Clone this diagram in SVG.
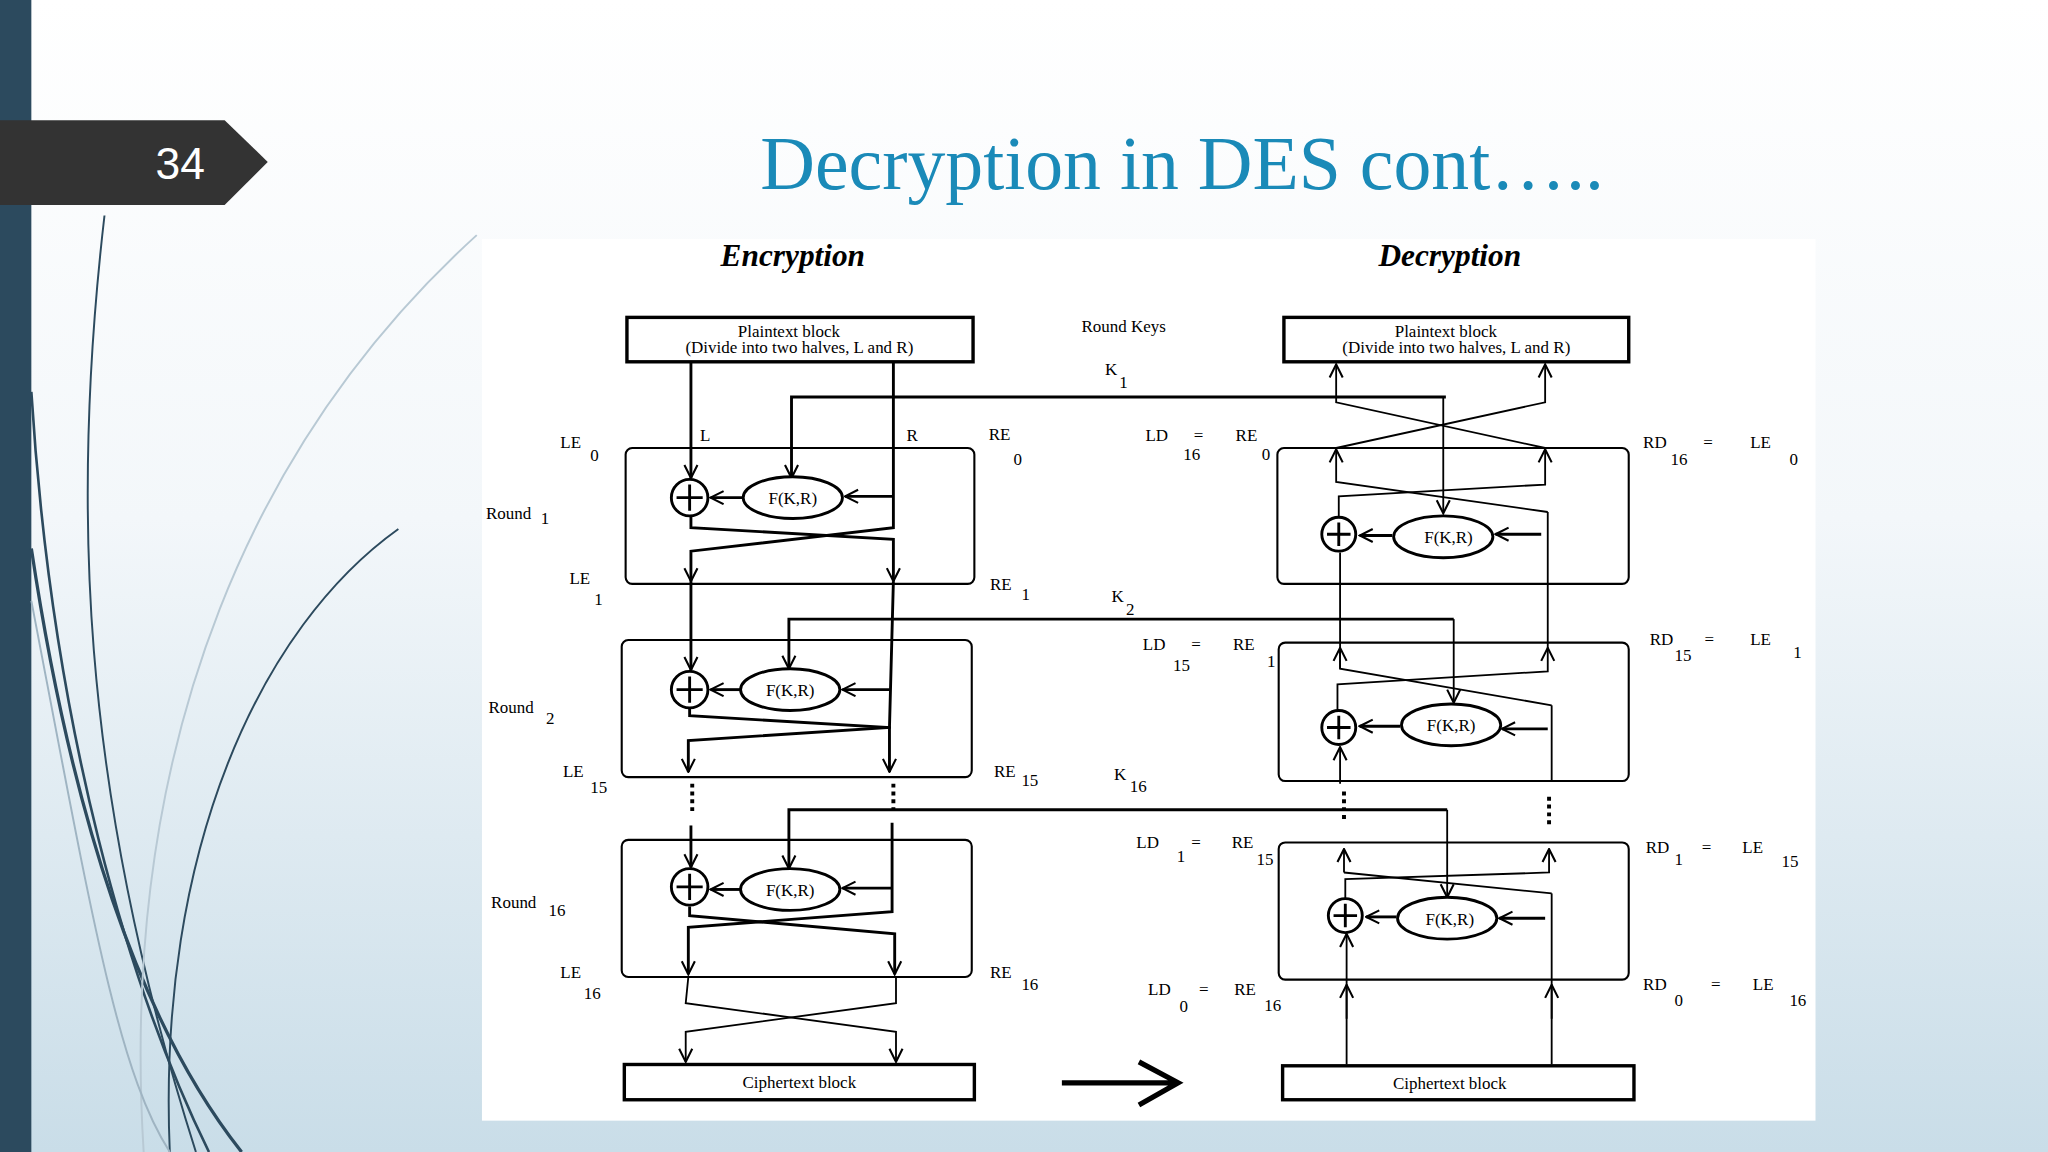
<svg xmlns="http://www.w3.org/2000/svg" width="2048" height="1152" viewBox="0 0 2048 1152">
<defs>
<linearGradient id="bg" x1="0" y1="0" x2="0" y2="1"><stop offset="0" stop-color="#ffffff"/><stop offset="0.45" stop-color="#f3f7fa"/><stop offset="1" stop-color="#c9dde8"/></linearGradient>
<marker id="a" viewBox="0 0 12 12" refX="11" refY="6" markerWidth="12" markerHeight="12" markerUnits="userSpaceOnUse" orient="auto"><path d="M1,1 L11,6 L1,11" fill="none" stroke="#000" stroke-width="1.6"/></marker>
<style>
.l{stroke:#000;stroke-width:2.2;fill:none}
.t{stroke:#000;stroke-width:1.4;fill:none}
.bx{stroke:#000;stroke-width:1.6;fill:none}
.pb{stroke:#000;stroke-width:2.6;fill:#fff}
.x{stroke:#000;stroke-width:2.2;fill:#fff}
.lb{font-family:"Liberation Serif",serif;font-size:13px;fill:#000}
.f{font-family:"Liberation Serif",serif;font-size:13px;fill:#000;text-anchor:middle}
.dots{stroke:#000;stroke-width:3;stroke-dasharray:3,3}
</style>
</defs>
<rect width="2048" height="1152" fill="url(#bg)"/>
<g transform="scale(1.30612)">
<rect x="0" y="0" width="24" height="882" fill="#2c4a5e"/>
<g fill="none">
<path d="M80,165 C55,380 60,600 150,882" stroke="#2c4a5e" stroke-width="1.5"/>
<path d="M24,300 C40,560 100,760 160,882" stroke="#2c4a5e" stroke-width="2"/>
<path d="M305,405 C200,480 120,650 130,882" stroke="#2c4a5e" stroke-width="1.5"/>
<path d="M24,420 C60,660 120,800 185,882" stroke="#2c4a5e" stroke-width="2.5"/>
<path d="M365,180 C200,330 90,560 110,882" stroke="#b8c9d4" stroke-width="1.5"/>
<path d="M24,460 C70,700 90,820 130,882" stroke="#9fb4c2" stroke-width="1.5"/>
</g>
<polygon points="0,92 172,92 205,124 172,157 0,157" fill="#333333"/>
<text x="138" y="137" font-family="Liberation Sans,sans-serif" font-size="34" fill="#fff" text-anchor="middle">34</text>
<text x="905" y="145" font-family="Liberation Serif,serif" font-size="58" fill="#1a8ab8" text-anchor="middle">Decryption in DES cont…..</text>
<rect x="369" y="183" width="1021" height="675" fill="#fff"/>
<text x="607" y="204" font-family="Liberation Serif,serif" font-size="24" font-weight="bold" font-style="italic" text-anchor="middle">Encryption</text>
<text x="1110" y="204" font-family="Liberation Serif,serif" font-size="24" font-weight="bold" font-style="italic" text-anchor="middle">Decryption</text>

<g id="connectors">
<!-- encryption -->
<path class="l" d="M529,277 V366" marker-end="url(#a)"/>
<path class="l" d="M684,277 V404 L529,422 V445" marker-end="url(#a)"/>
<path class="l" d="M1107,304 H606 V366" marker-end="url(#a)"/>
<path class="l" d="M684,380 H647" marker-end="url(#a)"/>
<path class="l" d="M569,381 H544" marker-end="url(#a)"/>
<path class="l" d="M529,395 V404 L684,413 V445" marker-end="url(#a)"/>
<path class="l" d="M529,445 V513" marker-end="url(#a)"/>
<path class="l" d="M684,445 L681,557 L527,567 V591" marker-end="url(#a)"/>
<path class="l" d="M1113,474 H604 V512" marker-end="url(#a)"/>
<path class="l" d="M681,528 H645" marker-end="url(#a)"/>
<path class="l" d="M567,528 H544" marker-end="url(#a)"/>
<path class="l" d="M528,542 V548 L681,557 V591" marker-end="url(#a)"/>
<path class="dots" d="M530,600 V622 M684,600 V622"/>
<path class="l" d="M529,632 V664" marker-end="url(#a)"/>
<path class="l" d="M1108,620 H604 V665" marker-end="url(#a)"/>
<path class="l" d="M683,630 V698 L527,710 V746" marker-end="url(#a)"/>
<path class="l" d="M683,680 H645" marker-end="url(#a)"/>
<path class="l" d="M567,681 H544" marker-end="url(#a)"/>
<path class="l" d="M528,694 V701 L685,715 V746" marker-end="url(#a)"/>
<path class="t" d="M527,748 L525,768 L686,790 V813" marker-end="url(#a)"/>
<path class="t" d="M686,748 V768 L525,790 V813" marker-end="url(#a)"/>
<path d="M813,829 H900 M872,813 L902,829 L872,846" stroke="#000" stroke-width="4" fill="none"/>
<!-- decryption -->
<path class="t" d="M1023,343 L1183,308 V279" marker-end="url(#a)"/>
<path class="t" d="M1183,343 L1023,308 V279" marker-end="url(#a)"/>
<path class="t" d="M1185,392 L1023,369 V344" marker-end="url(#a)"/>
<path class="t" d="M1025,409 V380 L1183,371 V344" marker-end="url(#a)"/>
<path class="t" d="M1105,304 V393" marker-end="url(#a)"/>
<path class="l" d="M1180,409 H1145" marker-end="url(#a)"/>
<path class="l" d="M1066,410 H1041" marker-end="url(#a)"/>
<path class="t" d="M1026,512 V423"/>
<path class="t" d="M1188,540 L1026,512 V496" marker-end="url(#a)"/>
<path class="t" d="M1024,557 V524 L1185,514 V496" marker-end="url(#a)"/>
<path class="t" d="M1185,496 V392"/>
<path class="t" d="M1113,474 V538" marker-end="url(#a)"/>
<path class="l" d="M1185,558 H1150" marker-end="url(#a)"/>
<path class="l" d="M1072,556 H1041" marker-end="url(#a)"/>
<path class="t" d="M1188,540 V598"/>
<path class="t" d="M1026,600 V572" marker-end="url(#a)"/>
<path class="dots" d="M1029,606 V630 M1186,610 V632"/>
<path class="t" d="M1029,668 V650" marker-end="url(#a)"/>
<path class="t" d="M1188,684 L1029,668"/>
<path class="t" d="M1030,700 V673 L1186,668 V650" marker-end="url(#a)"/>
<path class="t" d="M1108,620 V687" marker-end="url(#a)"/>
<path class="l" d="M1183,703 H1148" marker-end="url(#a)"/>
<path class="l" d="M1069,702 H1046" marker-end="url(#a)"/>
<path class="t" d="M1188,815 V684"/>
<path class="t" d="M1188,780 V754" marker-end="url(#a)"/>
<path class="t" d="M1031,815 V715" marker-end="url(#a)"/>
<path class="t" d="M1031,780 V754" marker-end="url(#a)"/>
</g>

<g id="enc-plain"><rect class="pb" x="480" y="243" width="265" height="34"/><text class="f" x="604" y="258" font-size="11">Plaintext block</text><text class="f" x="612" y="270" font-size="11">(Divide into two halves, L and R)</text></g>
<g id="dec-plain"><rect class="pb" x="983" y="243" width="264" height="34"/><text class="f" x="1107" y="258" font-size="11">Plaintext block</text><text class="f" x="1115" y="270" font-size="11">(Divide into two halves, L and R)</text></g>
<g id="enc-r1"><rect class="bx" x="479" y="343" width="267" height="104" rx="5"/></g>
<g id="enc-r2"><rect class="bx" x="476" y="490" width="268" height="105" rx="5"/></g>
<g id="enc-r16"><rect class="bx" x="476" y="643" width="268" height="105" rx="5"/></g>
<g id="dec-r1"><rect class="bx" x="978" y="343" width="269" height="104" rx="5"/></g>
<g id="dec-r2"><rect class="bx" x="979" y="492" width="268" height="106" rx="5"/></g>
<g id="dec-r16"><rect class="bx" x="979" y="645" width="268" height="105" rx="5"/></g>
<g id="enc-cipher"><rect class="pb" x="478" y="815" width="268" height="27"/><text class="f" x="612" y="833" font-size="14">Ciphertext block</text></g>
<g id="dec-cipher"><rect class="pb" x="982" y="816" width="269" height="26"/><text class="f" x="1110" y="834" font-size="14">Ciphertext block</text></g>

<g id="functions">
<ellipse class="x" cx="607" cy="381" rx="38" ry="16"/><text class="f" x="607" y="386">F(K,R)</text>
<ellipse class="x" cx="605" cy="528" rx="38" ry="16"/><text class="f" x="605" y="533">F(K,R)</text>
<ellipse class="x" cx="605" cy="681" rx="38" ry="16"/><text class="f" x="605" y="686">F(K,R)</text>
<ellipse class="x" cx="1105" cy="411" rx="38" ry="16"/><text class="f" x="1109" y="416">F(K,R)</text>
<ellipse class="x" cx="1111" cy="555" rx="38" ry="16"/><text class="f" x="1111" y="560">F(K,R)</text>
<ellipse class="x" cx="1108" cy="703" rx="38" ry="16"/><text class="f" x="1110" y="708">F(K,R)</text>
</g>
<g id="xors">
<g><circle class="x" cx="528" cy="381" r="14"/><path class="l" d="M518,381 H538 M528,371 V391"/></g>
<g><circle class="x" cx="528" cy="528" r="14"/><path class="l" d="M518,528 H538 M528,518 V538"/></g>
<g><circle class="x" cx="528" cy="679" r="14"/><path class="l" d="M518,679 H538 M528,669 V689"/></g>
<g><circle class="x" cx="1025" cy="409" r="13"/><path class="l" d="M1016,409 H1034 M1025,400 V418"/></g>
<g><circle class="x" cx="1025" cy="557" r="13"/><path class="l" d="M1016,557 H1034 M1025,548 V566"/></g>
<g><circle class="x" cx="1030" cy="701" r="13"/><path class="l" d="M1021,701 H1039 M1030,692 V710"/></g>
</g>

<g id="labels">
<text class="lb" x="828" y="254">Round Keys</text>
<text class="lb" x="846" y="287">K</text><text class="lb" x="857" y="297">1</text>
<text class="lb" x="851" y="461">K</text><text class="lb" x="862" y="471">2</text>
<text class="lb" x="853" y="597">K</text><text class="lb" x="865" y="606">16</text>
<text class="lb" x="429" y="343">LE</text><text class="lb" x="452" y="353">0</text>
<text class="lb" x="536" y="338">L</text><text class="lb" x="694" y="338">R</text>
<text class="lb" x="757" y="337">RE</text><text class="lb" x="776" y="356">0</text>
<text class="lb" x="372" y="397">Round</text><text class="lb" x="414" y="401">1</text>
<text class="lb" x="436" y="447">LE</text><text class="lb" x="455" y="463">1</text>
<text class="lb" x="758" y="452">RE</text><text class="lb" x="782" y="459">1</text>
<text class="lb" x="374" y="546">Round</text><text class="lb" x="418" y="554">2</text>
<text class="lb" x="431" y="595">LE</text><text class="lb" x="452" y="607">15</text>
<text class="lb" x="761" y="595">RE</text><text class="lb" x="782" y="602">15</text>
<text class="lb" x="376" y="695">Round</text><text class="lb" x="420" y="701">16</text>
<text class="lb" x="429" y="749">LE</text><text class="lb" x="447" y="765">16</text>
<text class="lb" x="758" y="749">RE</text><text class="lb" x="782" y="758">16</text>
<text class="lb" x="877" y="338">LD</text><text class="lb" x="914" y="338">=</text><text class="lb" x="946" y="338">RE</text><text class="lb" x="906" y="352">16</text><text class="lb" x="966" y="352">0</text>
<text class="lb" x="1258" y="343">RD</text><text class="lb" x="1304" y="343">=</text><text class="lb" x="1340" y="343">LE</text><text class="lb" x="1279" y="356">16</text><text class="lb" x="1370" y="356">0</text>
<text class="lb" x="875" y="498">LD</text><text class="lb" x="912" y="498">=</text><text class="lb" x="944" y="498">RE</text><text class="lb" x="898" y="514">15</text><text class="lb" x="970" y="511">1</text>
<text class="lb" x="1263" y="494">RD</text><text class="lb" x="1282" y="506">15</text><text class="lb" x="1305" y="494">=</text><text class="lb" x="1340" y="494">LE</text><text class="lb" x="1373" y="504">1</text>
<text class="lb" x="870" y="649">LD</text><text class="lb" x="901" y="660">1</text><text class="lb" x="912" y="649">=</text><text class="lb" x="943" y="649">RE</text><text class="lb" x="962" y="662">15</text>
<text class="lb" x="1260" y="653">RD</text><text class="lb" x="1282" y="662">1</text><text class="lb" x="1303" y="653">=</text><text class="lb" x="1334" y="653">LE</text><text class="lb" x="1364" y="664">15</text>
<text class="lb" x="879" y="762">LD</text><text class="lb" x="903" y="775">0</text><text class="lb" x="918" y="762">=</text><text class="lb" x="945" y="762">RE</text><text class="lb" x="968" y="774">16</text>
<text class="lb" x="1258" y="758">RD</text><text class="lb" x="1282" y="770">0</text><text class="lb" x="1310" y="758">=</text><text class="lb" x="1342" y="758">LE</text><text class="lb" x="1370" y="770">16</text>
</g>
</g>
</svg>
